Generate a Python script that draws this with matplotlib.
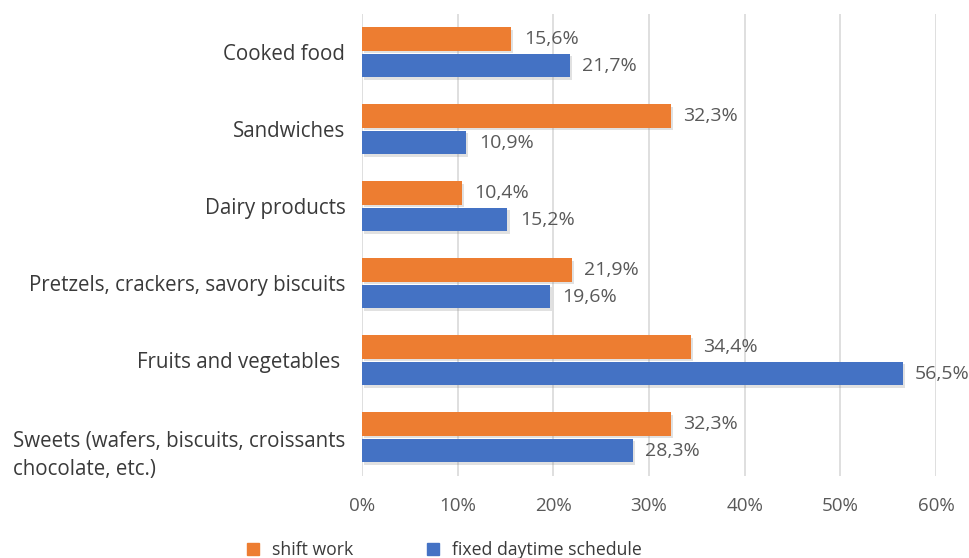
import matplotlib
matplotlib.use("Agg")
import matplotlib.pyplot as plt
import matplotlib.patheffects as pe
import matplotlib.transforms as mtransforms
import numpy as np
from matplotlib.lines import Line2D

categories = ["Cooked food", "Sandwiches", "Dairy products",
              "Pretzels, crackers, savory biscuits", "Fruits and vegetables ",
              "Sweets (wafers, biscuits, croissants\nchocolate, etc.)"]
shift_work = [15.6, 32.3, 10.4, 21.9, 34.4, 32.3]
fixed_daytime = [21.7, 10.9, 15.2, 19.6, 56.5, 28.3]
xticks = [0, 10, 20, 30, 40, 50, 60]
series_names = ["shift work", "fixed daytime schedule"]

ORANGE = "#ED7D31"
BLUE = "#4472C4"
TXT = "#595959"

plt.rcParams['font.family'] = ['Open Sans', 'DejaVu Sans']

fig = plt.figure(figsize=(9.7, 5.58), dpi=100)
ax = fig.add_axes([0.3732, 0.147, 0.5918, 0.828])

y = np.arange(len(categories))
h = 0.3
off = 0.175
shadow = [pe.SimplePatchShadow(offset=(1.5, -1.5), alpha=0.25, shadow_rgbFace="#888888"), pe.Normal()]
b1 = ax.barh(y - off, shift_work, height=h, color=ORANGE, zorder=3)
b2 = ax.barh(y + off, fixed_daytime, height=h, color=BLUE, zorder=3)
for b in list(b1) + list(b2):
    b.set_path_effects(shadow)

for yi, v in zip(y - off, shift_work):
    ax.text(v + 1.3, yi, f"{v:.1f}%".replace(".", ","), va="center", ha="left",
            fontsize=14, color=TXT)
for yi, v in zip(y + off, fixed_daytime):
    ax.text(v + 1.3, yi, f"{v:.1f}%".replace(".", ","), va="center", ha="left",
            fontsize=14, color=TXT)

ax.set_xlim(0, 60)
ax.set_ylim(len(categories) - 0.5, -0.5)
ax.set_xticks(xticks)
ax.set_xticklabels([f"{t}%" for t in xticks], fontsize=13.5, color=TXT)
ax.set_yticks(y)
ax.set_yticklabels(categories, fontsize=14.8, color="#3A3A3A", linespacing=1.45)
for lbl in ax.get_yticklabels():
    lbl.set_multialignment("left")
ax.tick_params(axis="y", length=0, pad=12)
ax.tick_params(axis="x", length=0, pad=15)
ax.grid(axis="x", color="#D9D9D9", linewidth=1.2, zorder=0)
for s in ax.spines.values():
    s.set_visible(False)

last = ax.get_yticklabels()[-1]
last.set_transform(last.get_transform() +
                   mtransforms.ScaledTranslation(0, -12 / 100, fig.dpi_scale_trans))

handles = [Line2D([], [], marker="s", linestyle="none", color=ORANGE, markersize=8),
           Line2D([], [], marker="s", linestyle="none", color=BLUE, markersize=8)]
leg = fig.legend(handles, series_names, loc="lower left", bbox_to_anchor=(0.235, -0.03),
                 ncol=2, frameon=False, fontsize=12.7, handletextpad=0.6,
                 columnspacing=4.0, handlelength=1.0)
for t in leg.get_texts():
    t.set_color("#3A3A3A")

fig.savefig("out.png", dpi=100, facecolor="white")
